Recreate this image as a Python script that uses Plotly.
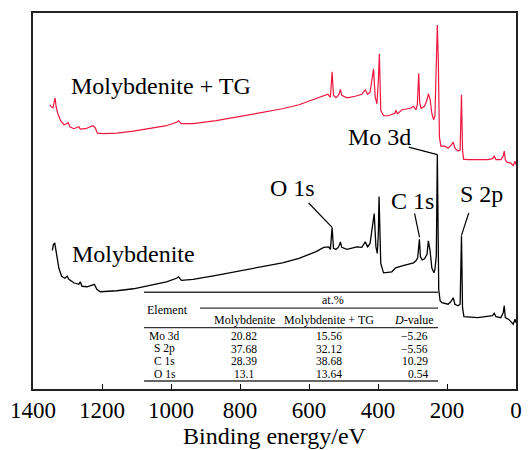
import plotly.graph_objects as go

# ---------------- data ----------------
# Molybdenite + TG (red) : binding energy (eV) and intensity (a.u.)
be_tg = [1351, 1347, 1342, 1336, 1333, 1328, 1320, 1310, 1303, 1298, 1293, 1282, 1267, 1263,
         1248, 1234, 1226, 1220, 1213, 1195, 1157, 1109, 1061, 1013, 984, 978, 970, 936, 869,
         821, 773, 725, 677, 629, 581, 557, 545, 538, 533, 529, 522, 514, 509, 505, 490, 466,
         447, 437, 430, 423, 418, 413, 408, 403, 399, 396, 392, 384, 370, 351, 348, 344, 330,
         306, 297, 290, 286, 282, 279, 275, 265, 258, 254, 249, 244, 239, 235, 232, 228, 225,
         222, 218, 206, 197, 189, 182, 177, 168, 162, 158, 155, 152, 139, 111, 82, 68, 63, 58,
         44, 37, 34, 31, 27, 15, 8, 3, 0]
int_tg = [285, 283, 282, 292, 283, 276, 269, 265, 266, 267, 263, 261, 263, 260.5,
          261, 262.5, 264, 262, 256.5, 256, 256.5, 258.5, 261.5, 264, 267.5, 269, 266, 266, 269,
          272, 274.5, 277.5, 281, 285, 291, 293.5, 295.5, 292.5, 318, 294.5, 292, 294.5, 300.5, 294.5, 292, 293.5,
          295.5, 300, 295.5, 297.5, 309.5, 321, 292.5, 286, 309.5, 336, 279.5, 274, 274, 276.5, 279.5, 276, 280,
          281.5, 283.5, 280, 285, 316.5, 286.5, 281.5, 283.5, 290, 296, 290.5, 276.5, 270, 273.5, 313, 365, 326.5,
          253, 243.5, 243.5, 241.5, 244, 247.5, 241.5, 238.5, 239.5, 295, 240, 230.5, 230, 230, 230, 231, 233.5, 230,
          230, 233.5, 238.5, 230, 227.5, 226.5, 224, 228.5, 225]

# Molybdenite (black)
be_mo = [1344, 1341, 1337, 1334, 1330, 1325, 1317, 1308, 1301, 1296, 1282, 1267, 1263, 1258,
         1243, 1229, 1222, 1215, 1205, 1157, 1109, 1061, 1013, 984, 978, 970, 936, 869, 821,
         773, 725, 677, 629, 581, 557, 543, 538, 533, 529, 522, 514, 509, 505, 490, 461, 447,
         437, 430, 423, 418, 411, 406, 402, 399, 397, 392, 384, 360, 349, 330, 311, 297, 290,
         285, 280, 277, 272, 265, 258, 254, 249, 244, 238, 235, 231, 228, 224, 220, 215, 206,
         197, 189, 182, 177, 168, 162, 158, 155, 151, 111, 82, 68, 63, 58, 44, 37, 34, 31, 20,
         8, 3, 0]
int_mo = [139, 144.5, 146.5, 139, 129.5, 121, 113, 111, 113, 110, 106.5, 105, 107.5, 103,
          102.5, 104, 105, 100, 97.5, 98.5, 100.5, 104, 107.5, 111, 112.5, 109, 110, 114, 117,
          120, 123, 126.5, 131, 137.5, 142, 142.5, 140, 162, 141, 140, 142.5, 147.5, 142, 140, 142.5, 142,
          147.5, 142.5, 146, 159.5, 176, 142.5, 136, 156, 193, 126, 116.5, 117.5, 121.5, 123.5, 125, 126.5, 128.5,
          131.5, 150, 132.5, 129.5, 130.5, 135, 148.5, 138.5, 121.5, 116.5, 120, 133.5, 235, 100, 88.5, 86.5, 85.5,
          85, 87.5, 91.5, 85, 83.5, 85, 154, 81.5, 72.5, 71.5, 72.5, 73.5, 76, 72.5, 71.5, 76.5, 83.5, 71.5, 69.5,
          65, 70, 66.5]

tick_vals = [1400, 1200, 1000, 800, 600, 400, 200, 0]
tick_text = ["1400", "1200", "1000", "800", "600", "400", "200", "0"]

# inset table
tbl_elements = ["Mo 3d", "S 2p", "C 1s", "O 1s"]
tbl_molybdenite = ["20.82", "37.68", "28.39", "13.1"]
tbl_mol_tg = ["15.56", "32.12", "38.68", "13.64"]
tbl_dvalue = ["\u22125.26", "\u22125.56", "10.29", "0.54"]
tbl_headers = ["Molybdenite", "Molybdenite + TG", "<i>D</i>-value"]

# peak labels: text, label position, leader start, leader end (eV, a.u.)
peak_labels = [
    ("Mo 3d", (397, 253), (311, 242.5), (228, 235)),
    ("O 1s", (648, 201.5), (601, 186.5), (533, 162)),
    ("C 1s", (300, 189), (294, 176), (279.5, 152)),
    ("S 2p", (101, 196), (137, 176.5), (158, 154)),
]

FONT = "Liberation Serif, Times New Roman, serif"
RED = "#f0163f"

fig = go.Figure()
fig.add_trace(go.Scatter(x=be_tg, y=int_tg, mode="lines",
                         line=dict(color=RED, width=1.2), showlegend=False))
fig.add_trace(go.Scatter(x=be_mo, y=int_mo, mode="lines",
                         line=dict(color="black", width=1.3), showlegend=False))

annotations = []
shapes = []

# series labels
annotations.append(dict(x=1030, y=304, text="Molybdenite + TG", showarrow=False,
                        font=dict(family=FONT, size=24, color="black")))
annotations.append(dict(x=1110, y=135, text="Molybdenite", showarrow=False,
                        font=dict(family=FONT, size=24, color="black")))

for txt, pos, p0, p1 in peak_labels:
    annotations.append(dict(x=pos[0], y=pos[1], text=txt, showarrow=False,
                            font=dict(family=FONT, size=24, color="black")))
    shapes.append(dict(type="line", xref="x", yref="y", x0=p0[0], y0=p0[1], x1=p1[0], y1=p1[1],
                       line=dict(color="black", width=1.2)))

# table lines
tbl_left, tbl_right, tbl_mid = 1078, 226, 916
for y0, xl, w in [(97, tbl_left, 1.6), (81, tbl_mid, 1.3), (61.5, tbl_left, 1.3), (8, tbl_left, 1.6)]:
    shapes.append(dict(type="line", xref="x", yref="y", x0=xl, x1=tbl_right, y0=y0, y1=y0,
                       line=dict(color="#333333", width=w)))

tf = dict(family=FONT, size=12, color="black")
rf = dict(family=FONT, size=11.5, color="black")
annotations.append(dict(x=530, y=89, text="at.%", showarrow=False, font=tf))
annotations.append(dict(x=1010, y=79, text="Element", showarrow=False, font=tf))
for xh, h in zip([787, 541, 297], tbl_headers):
    annotations.append(dict(x=xh, y=69.5, text=h, showarrow=False, font=tf))
row_y = [53, 40.3, 27.6, 14.9]
for ry, e, a, b, d in zip(row_y, tbl_elements, tbl_molybdenite, tbl_mol_tg, tbl_dvalue):
    annotations.append(dict(x=1018, y=ry, text=e, showarrow=False, font=rf))
    annotations.append(dict(x=787, y=ry, text=a, showarrow=False, font=rf))
    annotations.append(dict(x=541, y=ry, text=b, showarrow=False, font=rf))
    annotations.append(dict(x=249, y=ry, text=d, showarrow=False, font=rf, xanchor="right"))

fig.update_layout(
    width=528, height=450,
    margin=dict(l=33, r=6, t=13, b=60),
    paper_bgcolor="white", plot_bgcolor="white",
    font=dict(family=FONT, color="black"),
    annotations=annotations, shapes=shapes,
    xaxis=dict(range=[1400, 0], tickvals=tick_vals, ticktext=tick_text,
               ticks="inside", ticklen=5, tickwidth=1.3, tickcolor="black",
               showline=True, linecolor="#222222", linewidth=1.5, mirror=True,
               showgrid=False, zeroline=False,
               tickfont=dict(family=FONT, size=23, color="black"),
               title=dict(text="Binding energy/eV", font=dict(family=FONT, size=24, color="black"),
                          standoff=4)),
    yaxis=dict(range=[0, 377], showticklabels=False, ticks="",
               showline=True, linecolor="#222222", linewidth=1.5, mirror=True,
               showgrid=False, zeroline=False),
)

fig.write_html("out.html")
